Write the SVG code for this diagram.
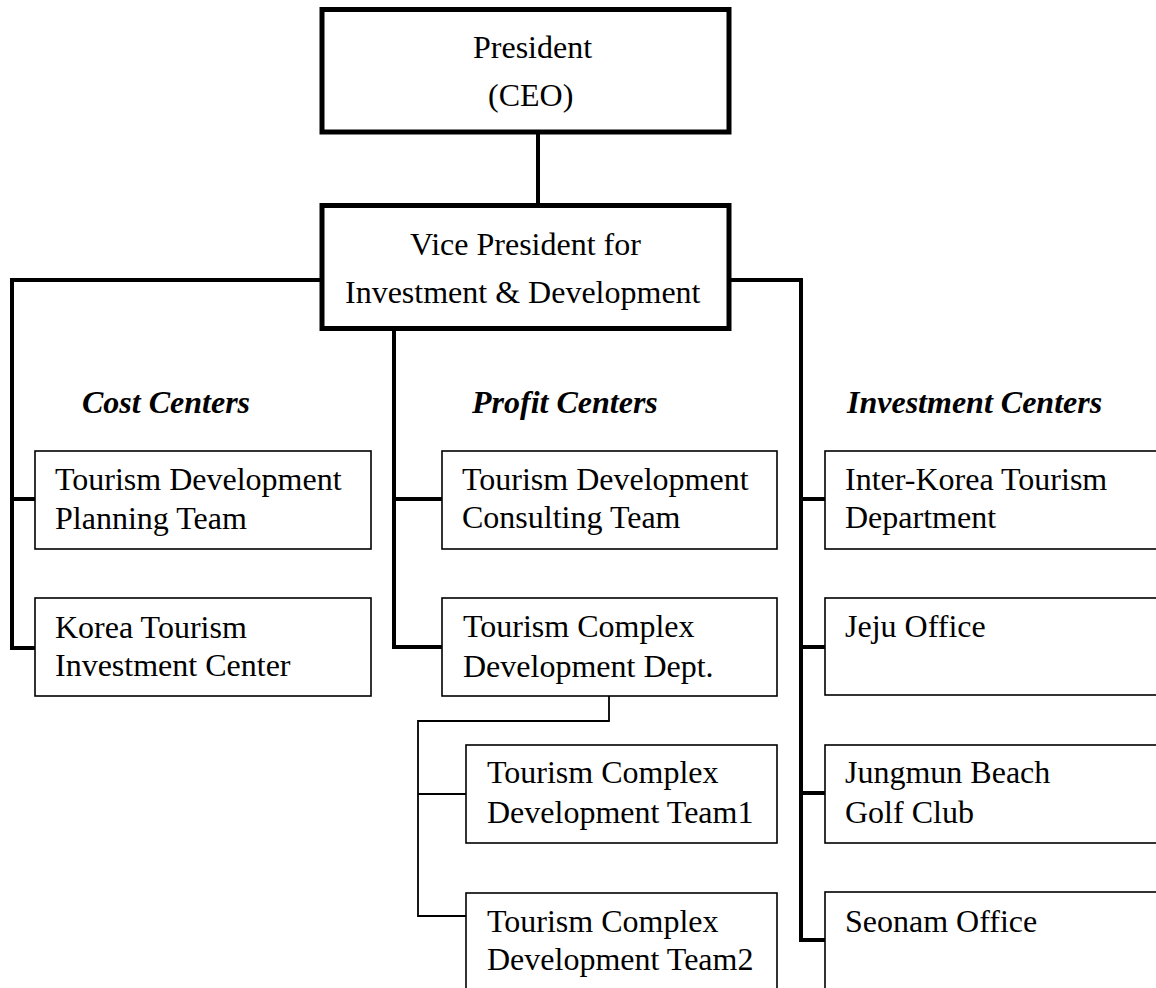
<svg xmlns="http://www.w3.org/2000/svg" width="1156" height="988" viewBox="0 0 1156 988">
  <style>
    text { font-family: "Liberation Serif", "Times New Roman", serif; font-size: 32px; fill: #000; }
    .head { font-weight: bold; font-style: italic; }
    .big { fill: #fff; stroke: #000; stroke-width: 5; }
    .box { fill: #fff; stroke: #000; stroke-width: 1.6; }
    .link { fill: none; stroke: #000; stroke-width: 4; stroke-linejoin: miter; stroke-linecap: square; }
    .thin { fill: none; stroke: #000; stroke-width: 1.8; stroke-linecap: square; }
  </style>
  <rect width="1156" height="988" fill="#fff"/>

  <!-- reporting lines -->
  <g id="connectors">
    <path class="link" d="M538,132 V205"/>
    <path class="link" d="M322,280 H12 V648 H35 M12,499 H35"/>
    <path class="link" d="M394,328 V647 H442 M394,499 H442"/>
    <path class="link" d="M729,280 H801 V940 H825 M801,499 H825 M801,647 H825 M801,793 H825"/>
    <path class="thin" d="M609,696 V721 H418 V916 H466 M418,794 H466"/>
  </g>

  <g id="president">
    <rect class="big" x="322" y="9.5" width="407" height="122.5"/>
    <text x="473" y="58">President</text>
    <text x="488" y="106">(CEO)</text>
  </g>

  <g id="vice-president">
    <rect class="big" x="322" y="205.5" width="407" height="123"/>
    <text x="410" y="255">Vice President for</text>
    <text x="345" y="303">Investment &amp; Development</text>
  </g>

  <!-- column headings -->
  <g id="headings">
    <text class="head" x="82" y="413">Cost Centers</text>
    <text class="head" x="472" y="413">Profit Centers</text>
    <text class="head" x="847" y="413">Investment Centers</text>
  </g>

  <!-- cost centers -->
  <g id="planning-team">
    <rect class="box" x="35" y="451" width="336" height="98"/>
    <text x="55" y="490">Tourism Development</text>
    <text x="55" y="529">Planning Team</text>
  </g>
  <g id="investment-center">
    <rect class="box" x="35" y="598" width="336" height="98"/>
    <text x="55" y="638">Korea Tourism</text>
    <text x="55" y="676">Investment Center</text>
  </g>

  <!-- profit centers -->
  <g id="consulting-team">
    <rect class="box" x="442" y="451" width="335" height="98"/>
    <text x="462" y="490">Tourism Development</text>
    <text x="462" y="528">Consulting Team</text>
  </g>
  <g id="complex-dept">
    <rect class="box" x="442" y="598" width="335" height="98"/>
    <text x="463" y="637">Tourism Complex</text>
    <text x="463" y="677">Development Dept.</text>
  </g>
  <g id="complex-team1">
    <rect class="box" x="466" y="745" width="311" height="98"/>
    <text x="487" y="783">Tourism Complex</text>
    <text x="487" y="823">Development Team1</text>
  </g>
  <g id="complex-team2">
    <rect class="box" x="466" y="893" width="311" height="110"/>
    <text x="487" y="932">Tourism Complex</text>
    <text x="487" y="970">Development Team2</text>
  </g>

  <!-- investment centers -->
  <g id="inter-korea">
    <rect class="box" x="825" y="451" width="340" height="98"/>
    <text x="845" y="490">Inter-Korea Tourism</text>
    <text x="845" y="528">Department</text>
  </g>
  <g id="jeju-office">
    <rect class="box" x="825" y="598" width="340" height="97"/>
    <text x="845" y="637">Jeju Office</text>
  </g>
  <g id="jungmun-golf">
    <rect class="box" x="825" y="745" width="340" height="98"/>
    <text x="845" y="783">Jungmun Beach</text>
    <text x="845" y="823">Golf Club</text>
  </g>
  <g id="seonam-office">
    <rect class="box" x="825" y="892" width="340" height="110"/>
    <text x="845" y="932">Seonam Office</text>
  </g>
</svg>
